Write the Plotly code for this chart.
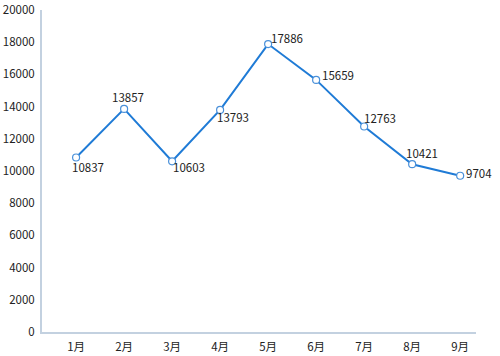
import plotly.graph_objects as go

months = ["1月", "2月", "3月", "4月", "5月", "6月", "7月", "8月", "9月"]
values = [10837, 13857, 10603, 13793, 17886, 15659, 12763, 10421, 9704]
y_ticks = [0, 2000, 4000, 6000, 8000, 10000, 12000, 14000, 16000, 18000, 20000]

# label pixel offsets (style)
label_dx = [12, 4, 17, 13, 19, 22, 16, 10, 19]
label_dy = [-9, 12, -6, -7, 6, 5, 9, 11, 3]

font = "Noto Sans CJK SC, Noto Sans, sans-serif"

fig = go.Figure()
fig.add_trace(go.Scatter(
    x=list(range(len(months))), y=values, mode="lines+markers",
    line=dict(color="#1f7bd6", width=2),
    marker=dict(symbol="circle", size=7, color="white",
                line=dict(color="#4a90d9", width=1.2)),
    hoverinfo="skip", showlegend=False, cliponaxis=False,
))

for i, v in enumerate(values):
    fig.add_annotation(x=i, y=v, text=str(v), showarrow=False,
                       xanchor="center", yanchor="middle",
                       xshift=label_dx[i], yshift=label_dy[i],
                       font=dict(family=font, size=11.5, color="#222222"))

fig.update_layout(
    width=500, height=356,
    margin=dict(l=42, r=24, t=10, b=24),
    paper_bgcolor="white", plot_bgcolor="white",
    font=dict(family=font, size=11, color="#222222"),
    xaxis=dict(
        tickmode="array", tickvals=list(range(len(months))), ticktext=months,
        range=[-0.71, 8.33], showgrid=False, zeroline=False,
        showline=True, linecolor="#c3d1e0", linewidth=2,
        ticks="", ticklabelstandoff=3,
        tickfont=dict(size=11.5, color="#222222"), automargin=False,
    ),
    yaxis=dict(
        range=[0, 20000], tickmode="array", tickvals=y_ticks,
        ticktext=[str(t) for t in y_ticks],
        showgrid=False, zeroline=False,
        showline=True, linecolor="#c3d1e0", linewidth=2,
        ticks="", ticklabelstandoff=3, tickfont=dict(size=11.5, color="#222222"),
        automargin=False,
    ),
)

fig.write_html("out.html")
